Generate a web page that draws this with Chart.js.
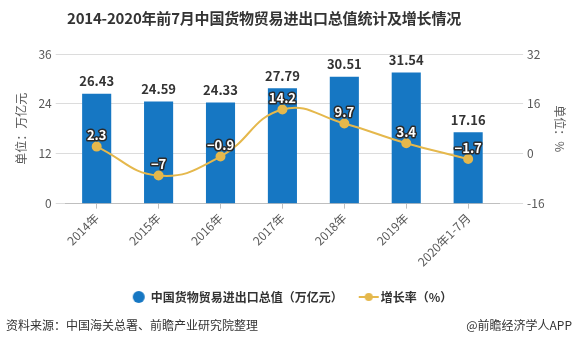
<!DOCTYPE html>
<html><head><meta charset="utf-8">
<script src="https://cdn.jsdelivr.net/npm/chart.js@4/dist/chart.umd.min.js"></script>
<style>
html,body{margin:0;padding:0;background:#fff;}
#wrap{position:relative;width:580px;height:345px;}
#c{position:absolute;left:0;top:0;}
.foot{position:absolute;top:316px;font:12px "Noto Sans CJK SC",sans-serif;color:#333;}
#title{position:absolute;left:67px;top:7px;font:bold 15px "Noto Sans CJK SC",sans-serif;color:#333;white-space:nowrap;letter-spacing:-0.2px;}
</style></head>
<body>
<div id="wrap">
<canvas id="c" width="580" height="345"></canvas>
<div id="title">2014-2020年前7月中国货物贸易进出口总值统计及增长情况</div>
<div class="foot" style="left:6px;">资料来源：中国海关总署、前瞻产业研究院整理</div>
<div class="foot" style="right:8px;">@前瞻经济学人APP</div>
</div>
<script>
const categories = ['2014年','2015年','2016年','2017年','2018年','2019年','2020年1-7月'];
const tradeValues = [26.43, 24.59, 24.33, 27.79, 30.51, 31.54, 17.16];
const growthRates = [2.3, -7, -0.9, 14.2, 9.7, 3.4, -1.7];
const leftTicks = [0, 12, 24, 36];
const rightTicks = [-16, 0, 16, 32];

const BLUE = '#1677C3';
const GOLD = '#E5B84C';
const FONT = '"Noto Sans CJK SC","Noto Sans",sans-serif';

function marker(type){
  const cv = document.createElement('canvas');
  cv.width = 26; cv.height = 14;
  const g = cv.getContext('2d');
  if(type==='bar'){
    g.fillStyle = BLUE; g.beginPath(); g.arc(13,7,6,0,Math.PI*2); g.fill();
  } else {
    g.strokeStyle = GOLD; g.lineWidth = 2; g.beginPath(); g.moveTo(3,7); g.lineTo(23,7); g.stroke();
    g.fillStyle = GOLD; g.beginPath(); g.arc(13,7,4,0,Math.PI*2); g.fill();
  }
  return cv;
}
const legendMarkers = [marker('line'), marker('bar')];

const labelPlugin = {
  id:'labels',
  afterDatasetsDraw(chart){
    const ctx = chart.ctx;
    ctx.save();
    ctx.textAlign='center'; ctx.textBaseline='bottom';
    const m0 = chart.getDatasetMeta(1);
    ctx.font = 'bold 13px ' + FONT;
    ctx.fillStyle = '#333';
    m0.data.forEach((el,i)=>{
      ctx.fillText(tradeValues[i].toFixed(2), el.x, el.y - 6);
    });
    const m1 = chart.getDatasetMeta(0);
    ctx.font = 'bold 13px ' + FONT;
    ctx.lineJoin='round';
    m1.data.forEach((el,i)=>{
      const t = growthRates[i] < 0 ? '−' + Math.abs(growthRates[i]) : String(growthRates[i]);
      ctx.strokeStyle='#2b2b2b'; ctx.lineWidth=3;
      ctx.strokeText(t, el.x, el.y - 5);
      ctx.fillStyle='#fff';
      ctx.fillText(t, el.x, el.y - 5);
    });
    ctx.restore();
  }
};

new Chart(document.getElementById('c'), {
  data:{
    labels: categories,
    datasets:[
      {type:'line', label:'增长率（%）', data:growthRates, yAxisID:'y1', borderColor:GOLD, backgroundColor:GOLD,
       borderWidth:2, tension:0.45, pointRadius:4, pointStyle:'circle', pointBackgroundColor:GOLD, pointBorderColor:GOLD, order:0},
      {type:'bar', label:'中国货物贸易进出口总值（万亿元）', data:tradeValues, yAxisID:'y', backgroundColor:BLUE,
       barPercentage:0.47, categoryPercentage:1, order:1}
    ]
  },
  options:{
    responsive:false, animation:false,
    layout:{padding:{left:10,right:5,top:54,bottom:32}},
    plugins:{
      title:{display:false},
      legend:{position:'bottom', reverse:true, labels:{usePointStyle:true, color:'#333', padding:20,
        font:{family:FONT, size:12, weight:'bold'},
        generateLabels(chart){
          return chart.data.datasets.map((d,i)=>({text:d.label, pointStyle:legendMarkers[i], datasetIndex:i, fontColor:'#333', lineWidth:0, hidden:false}));
        }}},
      tooltip:{enabled:false}
    },
    scales:{
      x:{grid:{offset:false, drawOnChartArea:false, drawTicks:true, tickLength:5, color:'#bfbfbf'},
         border:{display:true, color:'#bfbfbf'},
         ticks:{color:'#595959', font:{family:FONT, size:12}, maxRotation:45, minRotation:45, padding:2}},
      y:{position:'left', min:0, max:36, afterBuildTicks(ax){ax.ticks = leftTicks.map(v=>({value:v}));},
         grid:{color:'#dcdcdc', tickLength:10}, border:{display:false},
         ticks:{color:'#595959', font:{family:FONT, size:12}, padding:4},
         title:{display:true, text:'单位：万亿元', color:'#595959', font:{family:FONT, size:12}, padding:{bottom:6}}},
      y1:{position:'right', min:-16, max:32, afterBuildTicks(ax){ax.ticks = rightTicks.map(v=>({value:v}));},
         grid:{drawOnChartArea:false, color:'#dcdcdc', tickLength:24}, border:{display:false},
         ticks:{color:'#595959', font:{family:FONT, size:12}, padding:4},
         title:{display:true, text:'单位：%', color:'#595959', font:{family:FONT, size:12}, padding:{top:8}}}
    }
  },
  plugins:[labelPlugin]
});
</script>
</body></html>
